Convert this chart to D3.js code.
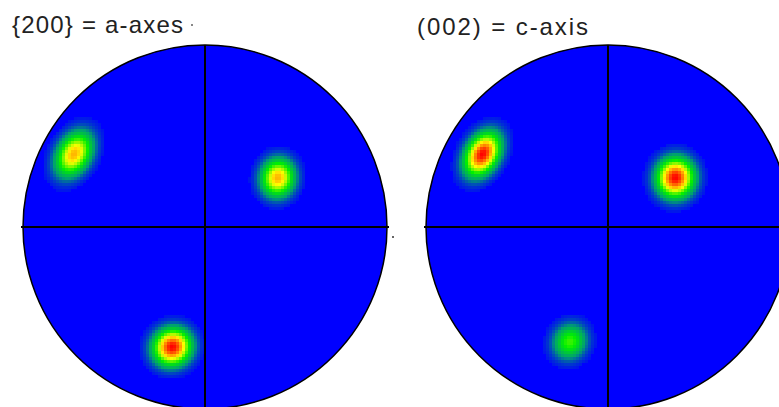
<!DOCTYPE html>
<html>
<head>
<meta charset="utf-8">
<script src="https://cdn.jsdelivr.net/npm/d3@7"></script>
<style>
  html, body { margin: 0; padding: 0; background: #fff; }
  svg { display: block; }
</style>
</head>
<body>
<svg id="chart" width="779" height="407"></svg>
<script>
// pole figure titles
var titles = ["{200} = a-axes", "(002) = c-axis"];

// intensity maxima, pole-figure coordinates (unit disk, y up)
var peakPanel = [0, 0, 0, 1, 1, 1];
var peakX     = [-0.72, 0.40, -0.18, -0.69, 0.37, -0.21];
var peakY     = [0.40, 0.27, -0.66, 0.40, 0.27, -0.63];
var peakMax   = [0.74, 0.74, 1.0, 1.0, 1.0, 0.42];
var peakWidth = [0.056, 0.058, 0.062, 0.054, 0.064, 0.058];   // minor spread
var peakLen   = [0.082, 0.066, 0.066, 0.080, 0.068, 0.064];   // major spread
var peakTilt  = [60, 80, 30, 60, 80, 60];                     // degrees

var svg = d3.select("#chart");

var panelCx = [205, 608], panelCy = 227, radius = 182, cell = 3;

var color = d3.scaleLinear()
  .domain([0, 0.16, 0.36, 0.62, 0.82, 1])
  .range(["#0000ff", "#00a070", "#00f000", "#ffff00", "#ff8000", "#ff0000"])
  .clamp(true);

function density(p, u, v) {
  var s = 0;
  for (var i = 0; i < peakX.length; i++) {
    if (peakPanel[i] !== p) continue;
    var a = peakTilt[i] * Math.PI / 180,
      dx = u - peakX[i], dy = v - peakY[i],
      du = dx * Math.cos(a) + dy * Math.sin(a),
      dv = -dx * Math.sin(a) + dy * Math.cos(a);
    s += peakMax[i] * Math.exp(-(du * du) / (2 * peakLen[i] * peakLen[i]) - (dv * dv) / (2 * peakWidth[i] * peakWidth[i]));
  }
  return s;
}

titles.forEach(function(t, p) {
  var cx = panelCx[p];
  var x = d3.scaleLinear().domain([-1, 1]).range([cx - radius, cx + radius]),
    y = d3.scaleLinear().domain([-1, 1]).range([panelCy + radius, panelCy - radius]);

  var g = svg.append("g");
  var clipId = "clip" + p;
  svg.append("defs").append("clipPath").attr("id", clipId)
    .append("circle").attr("cx", x(0)).attr("cy", y(0)).attr("r", radius);

  g.append("circle")
    .attr("cx", x(0)).attr("cy", y(0)).attr("r", radius)
    .attr("fill", "#0000ff");

  // intensity cells
  var cells = [];
  for (var px = cx - radius; px < cx + radius; px += cell) {
    for (var py = panelCy - radius; py < panelCy + radius; py += cell) {
      var u = x.invert(px + cell / 2), v = y.invert(py + cell / 2);
      if (u * u + v * v > 1) continue;
      var d = density(p, u, v);
      if (d > 0.02) cells.push({px: px, py: py, d: d});
    }
  }
  g.append("g").attr("clip-path", "url(#" + clipId + ")")
    .selectAll("rect").data(cells).enter().append("rect")
    .attr("x", function(d) { return d.px; })
    .attr("y", function(d) { return d.py; })
    .attr("width", cell).attr("height", cell)
    .attr("shape-rendering", "crispEdges")
    .attr("fill", function(d) { return color(d.d); });

  // crosshair
  g.append("line")
    .attr("x1", x(-1) - 2).attr("x2", x(1) + 2)
    .attr("y1", y(0)).attr("y2", y(0))
    .attr("stroke", "#000").attr("stroke-width", 2);
  g.append("line")
    .attr("x1", x(0)).attr("x2", x(0))
    .attr("y1", y(1)).attr("y2", y(-1))
    .attr("stroke", "#000").attr("stroke-width", 2);

  g.append("circle")
    .attr("cx", x(0)).attr("cy", y(0)).attr("r", radius)
    .attr("fill", "none").attr("stroke", "#000").attr("stroke-width", 1.5);

  svg.append("text")
    .attr("x", p === 0 ? 12 : 417)
    .attr("y", p === 0 ? 33 : 35)
    .attr("textLength", 171)
    .attr("lengthAdjust", "spacing")
    .style("font-family", "Liberation Sans, Arial, sans-serif")
    .style("font-size", "24px")
    .style("fill", "#222")
    .text(t);
});

// stray marks of the original export
svg.append("rect").attr("x", 191).attr("y", 24).attr("width", 2).attr("height", 2).attr("fill", "#888");
svg.append("rect").attr("x", 392).attr("y", 236).attr("width", 2).attr("height", 2).attr("fill", "#666");
</script>
</body>
</html>
